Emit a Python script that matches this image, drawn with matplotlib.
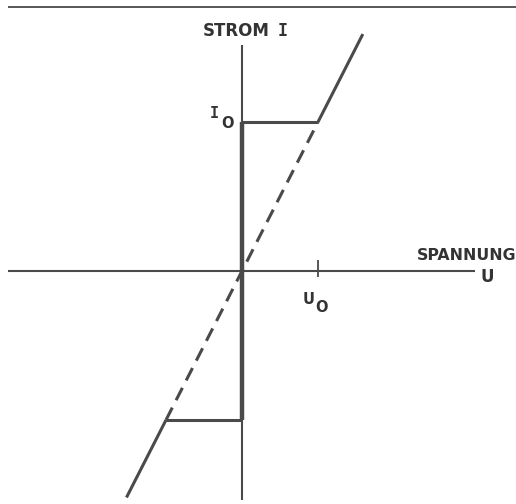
import matplotlib
matplotlib.use("Agg")
import matplotlib.pyplot as plt

plt.rcParams['lines.scale_dashes'] = False
plt.rcParams['lines.solid_capstyle'] = 'butt'

# working point (normalised units)
u0 = 1.0
i0 = 1.0
# extent of the resistor characteristic I = U * i0/u0
u_low, u_high = -1.52, 1.59
# axis extents
u_axis = [-3.08, 3.07]
i_axis = [-1.54, 1.52]
top_rule = 1.77

INK = '#4a4a4a'
W, H = 516, 504

def main():
    fig = plt.figure(figsize=(W / 100, H / 100), dpi=100)
    ax = fig.add_axes([0, 0, 1, 1])
    ax.set_xlim(-242 / 76, (W - 242) / 76)
    ax.set_ylim(-(H - 271) / 149, 271 / 149)
    ax.axis('off')

    k = i0 / u0
    # top rule of the page
    ax.plot([(8 - 242) / 76, (W - 242) / 76], [top_rule, top_rule], color=INK, lw=1.3)

    # coordinate axes
    ax.plot(u_axis, [0, 0], color=INK, lw=1.5)
    ax.plot([0, 0], i_axis, color=INK, lw=1.5)
    ax.plot([u0, u0], [-0.04, 0.075], color=INK, lw=1.3)

    # resistor line: solid outside, dashed between -u0..u0
    ax.plot([u0, u_high], [k * u0, k * u_high], color=INK, lw=2.2)
    ax.plot([u_low, -u0], [k * u_low, -k * u0], color=INK, lw=2.2)
    ax.plot([-u0, u0], [-k * u0, k * u0], color=INK, lw=2.2, dashes=(10, 6))

    # current limit rectangle
    ax.plot([0, u0], [i0, i0], color=INK, lw=2.2)
    ax.plot([-u0, 0], [-i0, -i0], color=INK, lw=2.2)
    ax.plot([0, 0], [-i0, i0], color=INK, lw=3.2)

    def ftxt(x, y, s, size=12, **kw):
        kw.setdefault('family', 'DejaVu Sans')
        fig.text(x / W, 1 - y / H, s, color='#333333', fontweight='bold',
                 fontsize=size, ha=kw.pop('ha', 'center'), va='center', **kw)

    ftxt(236, 31, 'STROM', ha='center')
    ftxt(283, 31, 'I', size=12, family='DejaVu Sans Mono')
    ftxt(214, 114, 'I', size=11, family='DejaVu Sans Mono')
    ftxt(227, 123, 'O', size=10.5)
    ftxt(309, 300, 'U', size=10.5)
    ftxt(322, 308, 'O', size=10.5)
    ftxt(516, 256, 'SPANNUNG', size=11.3, ha='right')
    ftxt(487, 277, 'U', size=12)

    fig.savefig('out.png', dpi=100, facecolor='white')

main()
